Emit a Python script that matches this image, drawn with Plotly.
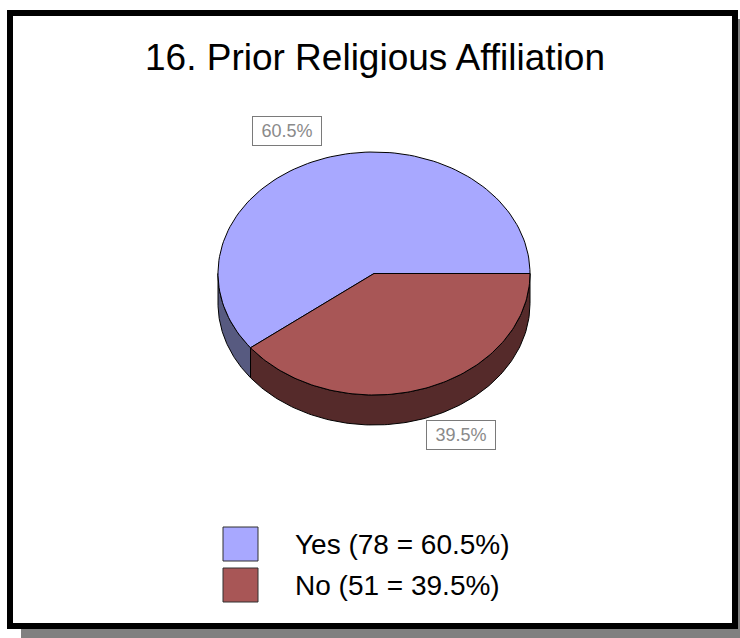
import numpy as np
import plotly.graph_objects as go

# ---- data ----
labels = ["Yes", "No"]
counts = [78, 51]
top_colors = ["#A8A8FF", "#A85656"]
side_colors = ["#575A80", "#552A2A"]
title_text = "16. Prior Religious Affiliation"

# ---- geometry (layout) ----
W, H = 740, 638
cx, cy, rx, ry, depth = 374, 273.5, 156, 121.5, 30

total = sum(counts)
fracs = [c / total for c in counts]
starts = np.concatenate([[0], np.cumsum(fracs)[:-1]]) * 360
ends = starts + np.array(fracs) * 360


def arc(t1, t2, n=120):
    ts = np.radians(np.linspace(t1, t2, n))
    return cx + rx * np.cos(ts), cy - ry * np.sin(ts)


fig = go.Figure()

# side walls (front half only: 180..360 deg)
for i in range(len(counts)):
    a = max(starts[i], 180)
    b = min(ends[i], 360)
    if b <= a:
        continue
    xs, ys = arc(a, b)
    px = list(xs) + list(xs[::-1]) + [xs[0]]
    py = list(ys) + list(ys[::-1] + depth) + [ys[0]]
    fig.add_trace(go.Scatter(x=px, y=py, mode="lines", fill="toself",
                             fillcolor=side_colors[i],
                             line=dict(color="black", width=1),
                             hoverinfo="skip", showlegend=False))

# top faces
for i in range(len(counts)):
    xs, ys = arc(starts[i], ends[i])
    px = [cx] + list(xs) + [cx]
    py = [cy] + list(ys) + [cy]
    fig.add_trace(go.Scatter(x=px, y=py, mode="lines", fill="toself",
                             fillcolor=top_colors[i],
                             line=dict(color="black", width=1),
                             hoverinfo="skip", showlegend=False))

annotations = []
# percentage labels
for i in range(len(counts)):
    mid = np.radians((starts[i] + ends[i]) / 2)
    k = 1.16
    lx = cx + rx * k * np.cos(mid)
    ly = cy - ry * k * np.sin(mid)
    if np.sin(mid) < 0:
        ly += depth
    anchor = "left" if np.cos(mid) >= 0 else "right"
    annotations.append(dict(
        x=lx + (-6 if anchor == "left" else 6), y=ly - (9 if np.sin(mid) > 0 else 2),
        xref="x", yref="y", showarrow=False,
        text=f"{fracs[i]*100:.1f}%", xanchor=anchor, yanchor="middle",
        width=60, align="center",
        font=dict(family="Arial, Liberation Sans", size=18, color="#8a8a8a"),
        bordercolor="#7a7a7a", borderwidth=1, borderpad=4, bgcolor="white"))

# title
annotations.append(dict(x=375, y=57, xref="x", yref="y", showarrow=False,
                        text=title_text, xanchor="center", yanchor="middle",
                        font=dict(family="Arial, Liberation Sans", size=37, color="black")))

shapes = [
    # drop shadow
    dict(type="rect", xref="x", yref="y", x0=21, x1=760, y0=19, y1=660,
         fillcolor="#808080", line=dict(width=0), layer="below"),
    # frame
    dict(type="rect", xref="x", yref="y", x0=10, x1=735, y0=13, y1=626,
         fillcolor="white", line=dict(color="black", width=6), layer="below"),
]

# legend (manual)
for i in range(len(counts)):
    y0 = 527 + i * 41
    shapes.append(dict(type="rect", xref="x", yref="y", x0=223, x1=258,
                       y0=y0, y1=y0 + 34, fillcolor=top_colors[i],
                       line=dict(color="#303030", width=1)))
    annotations.append(dict(
        x=293, y=y0 + 17, xref="x", yref="y", showarrow=False,
        text=f"{labels[i]} ({counts[i]} = {fracs[i]*100:.1f}%)",
        xanchor="left", yanchor="middle",
        font=dict(family="Arial, Liberation Sans", size=28, color="black")))

fig.update_layout(
    width=W, height=H, autosize=False,
    margin=dict(l=0, r=0, t=0, b=0),
    paper_bgcolor="white", plot_bgcolor="rgba(0,0,0,0)",
    xaxis=dict(range=[0, W], visible=False, fixedrange=True),
    yaxis=dict(range=[H, 0], visible=False, fixedrange=True),
    shapes=shapes, annotations=annotations, showlegend=False,
)

fig.write_html("out.html", config={"displayModeBar": False},
               post_script="document.body.style.margin='0px';")
